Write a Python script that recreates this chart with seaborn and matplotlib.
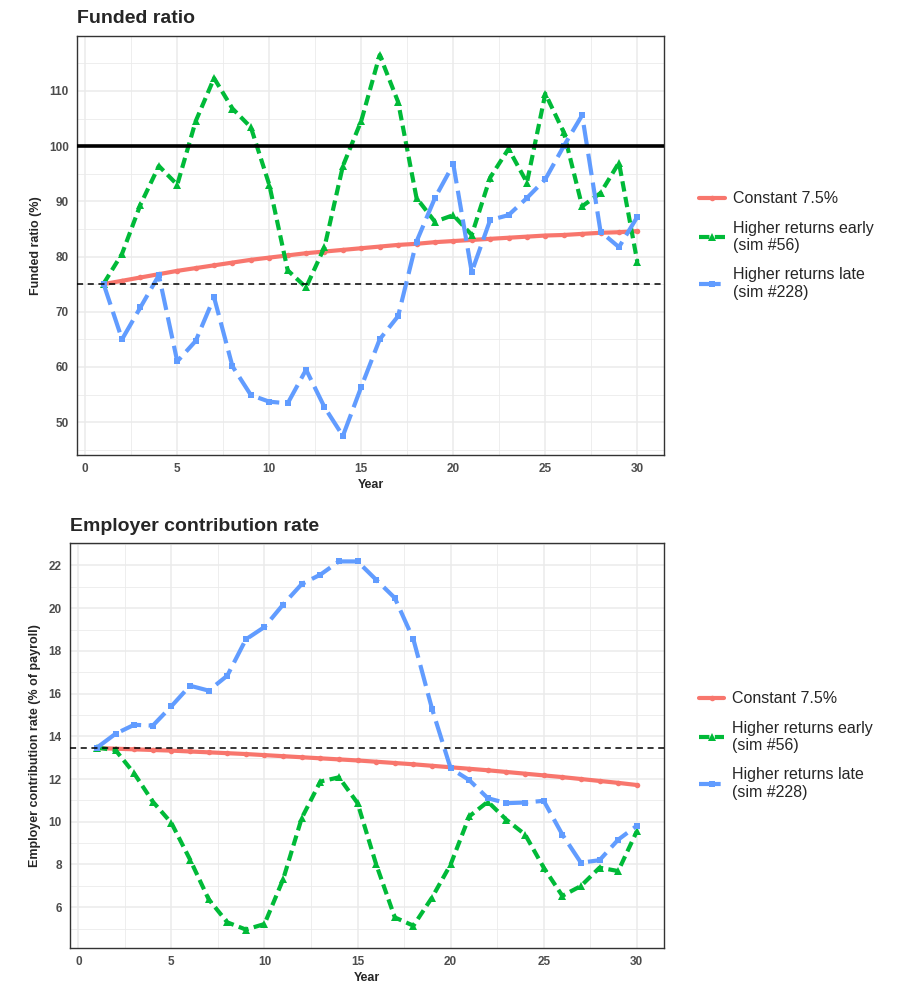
import matplotlib
matplotlib.use("Agg")
import matplotlib.pyplot as plt
import seaborn as sns
import pandas as pd
from matplotlib.ticker import MultipleLocator

years = list(range(1, 31))
scenarios = ["Constant 7.5%", "Higher returns early\n(sim #56)", "Higher returns late\n(sim #228)"]

# funded ratio (%)
fr_const = [75.0, 75.6, 76.2, 76.8, 77.4, 77.9, 78.4, 78.9, 79.4, 79.8,
            80.2, 80.6, 80.9, 81.2, 81.5, 81.8, 82.1, 82.3, 82.6, 82.8,
            83.0, 83.2, 83.4, 83.6, 83.8, 83.9, 84.1, 84.3, 84.4, 84.6]
fr_early = [75.1, 80.5, 89.4, 96.4, 93.0, 104.5, 112.3, 106.8, 103.4, 93.0,
            77.5, 74.4, 81.7, 96.4, 104.6, 116.5, 108.0, 90.6, 86.3, 87.5,
            83.9, 94.3, 99.5, 93.4, 109.5, 102.5, 89.1, 91.5, 97.0, 79.0]
fr_late = [75.0, 65.0, 70.8, 76.6, 61.0, 64.7, 72.6, 60.1, 54.9, 53.7,
           53.4, 59.5, 52.7, 47.5, 56.4, 65.0, 69.2, 82.7, 90.6, 96.7,
           77.2, 86.6, 87.5, 90.6, 94.0, 100.0, 105.6, 84.5, 81.7, 87.2]

# employer contribution rate (% of payroll)
erc_const = [13.45, 13.42, 13.39, 13.36, 13.33, 13.29, 13.25, 13.21, 13.17, 13.12,
             13.07, 13.02, 12.97, 12.92, 12.87, 12.81, 12.75, 12.69, 12.62, 12.55,
             12.48, 12.41, 12.33, 12.25, 12.17, 12.09, 12.00, 11.91, 11.82, 11.72]
erc_early = [13.47, 13.35, 12.26, 10.94, 9.94, 8.23, 6.37, 5.29, 4.95, 5.21,
             7.30, 10.17, 11.88, 12.08, 10.87, 8.0, 5.52, 5.13, 6.45, 8.0,
             10.25, 10.94, 10.09, 9.40, 7.85, 6.53, 6.99, 7.85, 7.69, 9.55]
erc_late = [13.47, 14.12, 14.54, 14.50, 15.41, 16.37, 16.14, 16.84, 18.54, 19.12,
            20.17, 21.13, 21.57, 22.19, 22.19, 21.33, 20.48, 18.54, 15.29, 12.50,
            11.95, 11.10, 10.87, 10.90, 10.98, 9.40, 8.08, 8.20, 9.16, 9.81]

fr_init = 75
erc_init = 13.45

pal = dict(zip(scenarios, ["#F8766D", "#00BA38", "#619CFF"]))
marks = dict(zip(scenarios, ["o", "^", "s"]))
dash = dict(zip(scenarios, ["", (2.5, 1.3), (5.2, 1.8)]))
msizes = [4, 6, 5]


def long_df(a, b, c):
    rows = []
    for name, vals in zip(scenarios, [a, b, c]):
        for y, v in zip(years, vals):
            rows.append({"year": y, "value": v, "scenario": name})
    return pd.DataFrame(rows)


sns.set_theme(style="white")
plt.rcParams["font.family"] = ["Liberation Sans", "DejaVu Sans"]

fig = plt.figure(figsize=(8.97, 9.94), dpi=100)
ax1 = fig.add_axes([0.0858, 0.5423, 0.6545, 0.4215])
ax2 = fig.add_axes([0.078, 0.0463, 0.662, 0.4074])


def draw(ax, df, init, ymajor, yminor, ylabel, title):
    sns.lineplot(data=df, x="year", y="value", hue="scenario", style="scenario",
                 palette=pal, markers=marks, dashes=dash, linewidth=3,
                 markeredgewidth=0, ax=ax, legend=False, sort=False)
    lines = ax.lines[:3]
    for ln, ms in zip(lines, msizes):
        ln.set_markersize(ms)
        ln.set_dash_capstyle("butt")
    ax.axhline(init, color="black", lw=1.1, ls=(0, (4, 3)), zorder=5)
    ax.xaxis.set_major_locator(MultipleLocator(5))
    ax.xaxis.set_minor_locator(MultipleLocator(2.5))
    ax.yaxis.set_major_locator(MultipleLocator(ymajor))
    ax.yaxis.set_minor_locator(MultipleLocator(yminor))
    ax.grid(which="major", color="#EBEBEB", lw=1.1)
    ax.grid(which="minor", color="#EBEBEB", lw=0.6)
    ax.set_axisbelow(True)
    ax.margins(x=0.05, y=0.05)
    ax.set_xlim(-0.45, 31.45)
    for s in ax.spines.values():
        s.set_color("#333333")
        s.set_linewidth(1.0)
    ax.tick_params(which="major", length=4, width=1, color="#333333",
                   labelsize=8.5, labelcolor="#4D4D4D", pad=2)
    ax.tick_params(which="minor", length=0)
    for t in ax.get_xticklabels() + ax.get_yticklabels():
        t.set_fontweight("bold")
    ax.set_xlabel("Year", fontsize=9, fontweight="bold", labelpad=3)
    ax.set_ylabel(ylabel, fontsize=9, fontweight="bold", labelpad=5)
    ax.set_title(title, loc="left", fontsize=14, fontweight="bold", pad=9, x=0.0)
    ax.legend(lines, scenarios, loc="center left", bbox_to_anchor=(1.035, 0.5),
              frameon=False, fontsize=11.5, handlelength=1.6, labelspacing=0.9,
              handletextpad=0.5)


draw(ax1, long_df(fr_const, fr_early, fr_late), fr_init, 10, 5,
     "Funded ratio (%)", "Funded ratio")
ax1.axhline(100, color="black", lw=2.6, zorder=6)

draw(ax2, long_df(erc_const, erc_early, erc_late), erc_init, 2, 1,
     "Employer contribution rate (% of payroll)", "Employer contribution rate")

fig.savefig("out.png", dpi=100)
